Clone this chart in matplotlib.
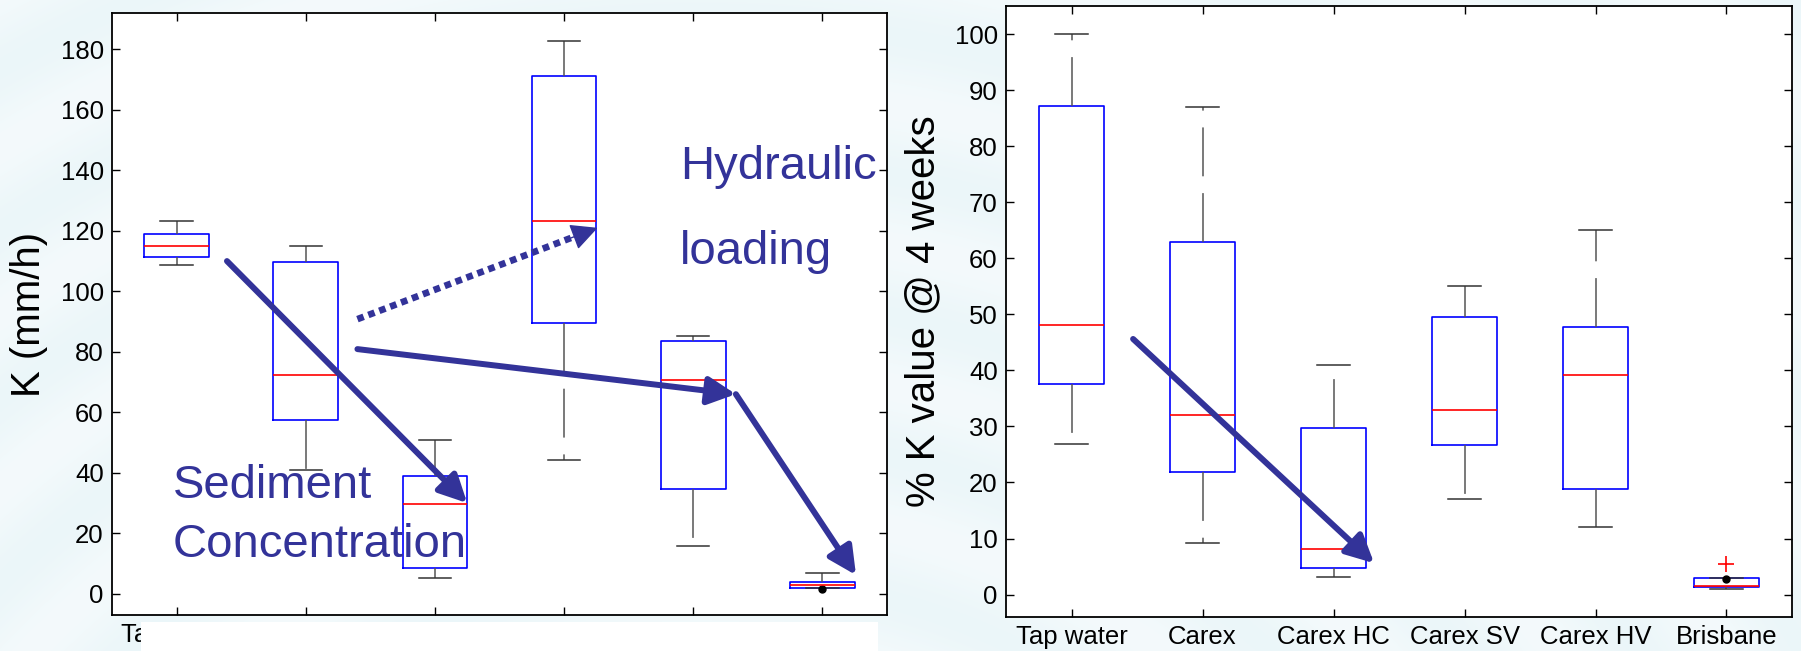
import numpy as np
import matplotlib
matplotlib.use("Agg")
import matplotlib.pyplot as plt
from matplotlib.patches import Rectangle

plt.rcParams['font.family'] = ['Liberation Sans', 'DejaVu Sans']

groups = ['Tap water', 'Carex', 'Carex HC', 'Carex SV', 'Carex HV', 'Brisbane']

# left panel: K (mm/h)
left_lo = [108.8, 41.0, 5.1, 44.2, 15.8, 1.9]
left_q1 = [111.3, 57.3, 8.5, 89.6, 34.7, 1.9]
left_med = [115.1, 72.2, 29.8, 123.1, 70.8, 3.0]
left_q3 = [119.1, 109.8, 39.1, 171.1, 83.6, 4.0]
left_hi = [123.1, 115.1, 51.0, 182.9, 85.1, 6.9]
left_fliers = [[], [], [], [], [], []]
left_dots = {6: 1.6}

# right panel: % K value @ 4 weeks
right_lo = [26.9, 9.2, 3.2, 17.0, 12.1, 1.0]
right_q1 = [37.6, 21.9, 4.7, 26.7, 18.9, 1.3]
right_med = [48.1, 32.1, 8.1, 32.9, 39.1, 1.55]
right_q3 = [87.2, 62.9, 29.7, 49.6, 47.7, 3.0]
right_hi = [100.0, 87.0, 41.0, 55.0, 65.1, 3.0]
right_fliers = [[], [], [], [], [], [5.4]]
right_dots = {6: 2.8}

# annotations (data coords)
left_arrows = [((1.39, 110.0), (3.25, 30.0)),
               ((2.40, 80.9), (5.33, 66.0)),
               ((5.33, 66.0), (6.26, 6.2))]
left_dotted = ((2.40, 90.8), (4.26, 121.0))
right_arrows = [((1.47, 45.6), (3.31, 5.6))]
left_texts = [(4.90, 137.2, 'Hydraulic'), (4.90, 109.1, 'loading'),
              (0.97, 31.6, 'Sediment'), (0.97, 12.3, 'Concentration')]

ink = '#333399'

fig = plt.figure(figsize=(18.01, 6.51), dpi=100)

# pale swirl background
bg = fig.add_axes([0, 0, 1, 1], zorder=-10)
yy, xx = np.mgrid[0:651, 0:1801]
r = np.hypot(xx - 700, yy - 1300)
v = 0.5 + 0.5 * np.sin(r / 22.0)
a = 0.22 + 0.16 * v
base = np.array([0.80, 0.91, 0.94])
img = (1 - a[..., None]) * 1.0 + a[..., None] * base
bg.imshow(img, aspect='auto', extent=[0, 1, 0, 1], origin='upper')
bg.set_axis_off()


def make_stats(lo, q1, med, q3, hi, fl):
    return [dict(whislo=lo[i], q1=q1[i], med=med[i], q3=q3[i], whishi=hi[i],
                 fliers=fl[i], label=groups[i]) for i in range(len(groups))]


def draw(ax, stats, dots, ylim, yticks):
    ax.set_facecolor('white')
    ax.bxp(stats, positions=range(1, 7), widths=0.5, capwidths=0.25,
           showfliers=True,
           boxprops=dict(color='#0000ff', lw=1.2),
           medianprops=dict(color='#ff0000', lw=1.2),
           whiskerprops=dict(color='#555555', lw=1.1, linestyle=(0, (32, 11))),
           capprops=dict(color='#333333', lw=1.1),
           flierprops=dict(marker='+', markeredgecolor='#ff0000',
                           markersize=12, markeredgewidth=1.2, linestyle='none'))
    for k, val in dots.items():
        ax.plot(k, val, 'o', color='black', markersize=5)
    ax.set_xlim(0.5, 6.5)
    ax.set_ylim(*ylim)
    ax.set_yticks(yticks)
    ax.set_xticks(range(1, 7))
    ax.set_xticklabels(groups)
    ax.tick_params(direction='in', length=6, width=1, top=True, right=True,
                   labelsize=18.5, pad=6)
    for s in ax.spines.values():
        s.set_linewidth(1.3)
        s.set_color('black')


axl = fig.add_axes([0.0622, 0.0553, 0.4303, 0.9247])
draw(axl, make_stats(left_lo, left_q1, left_med, left_q3, left_hi, left_fliers),
     left_dots, (-7, 192), range(0, 181, 20))
axl.set_ylabel('K (mm/h)', fontsize=29, va='center')
axl.yaxis.set_label_coords(-0.107, 0.5)

axr = fig.add_axes([0.5586, 0.0522, 0.4364, 0.9386])
draw(axr, make_stats(right_lo, right_q1, right_med, right_q3, right_hi, right_fliers),
     right_dots, (-4, 105), range(0, 101, 10))
axr.set_ylabel('% K value @ 4 weeks', fontsize=29, va='center')
axr.yaxis.set_label_coords(-0.1056, 0.5)

head = dict(arrowstyle='-|>,head_length=0.7,head_width=0.35', color=ink,
            lw=4.3, mutation_scale=24, shrinkA=0, shrinkB=0)
for start, end in left_arrows:
    axl.annotate('', xy=end, xytext=start, arrowprops=head, zorder=5)
for start, end in right_arrows:
    axr.annotate('', xy=end, xytext=start, arrowprops=head, zorder=5)

# dotted arrow: dotted shaft plus solid head
(x0, y0), (x1, y1) = left_dotted
tfrac = 0.9
axl.plot([x0, x0 + tfrac * (x1 - x0)], [y0, y0 + tfrac * (y1 - y0)],
         color=ink, lw=4.8, linestyle=(0, (1.0, 0.75)), solid_capstyle='butt',
         dash_capstyle='butt', zorder=5)
axl.annotate('', xy=(x1, y1), xytext=(x0 + 0.88 * (x1 - x0), y0 + 0.88 * (y1 - y0)),
             arrowprops=dict(head, lw=1), zorder=5)

for x, y, s in left_texts:
    axl.text(x, y, s, fontsize=34, color=ink, va='baseline', ha='left',
             zorder=6, clip_on=False)

# white strip hiding the left panel's category labels
fig.add_artist(Rectangle((141 / 1801, 0), 737 / 1801, 29 / 651,
                         transform=fig.transFigure, facecolor='white',
                         edgecolor='none', zorder=20))

fig.savefig('out.png', dpi=100)
